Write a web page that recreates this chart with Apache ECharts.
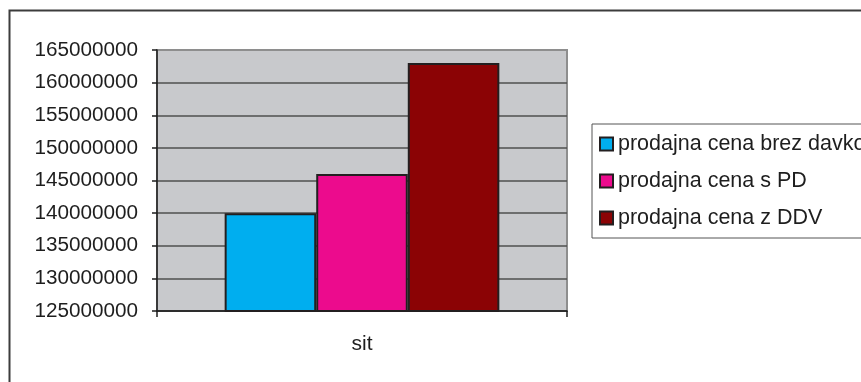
<!DOCTYPE html>
<html>
<head>
<meta charset="utf-8">
<script src="https://cdn.jsdelivr.net/npm/echarts@6/dist/echarts.min.js"></script>
<style>
  html, body { margin: 0; padding: 0; background: #fff; }
  #chart { width: 861px; height: 382px; }
</style>
</head>
<body>
<div id="chart"></div>
<script>
// Category and series data
const categories = ['sit'];
const seriesNames = ['prodajna cena brez davkov', 'prodajna cena s PD', 'prodajna cena z DDV'];
const priceNoTax = [140000000];
const priceWithPD = [146000000];
const priceWithDDV = [163000000];
const seriesColors = ['#00aeef', '#ec0b8d', '#8b0305'];

// Value axis range
const yMin = 125000000;
const yMax = 165000000;
const yStep = 5000000;

const FONT = '"Liberation Sans", Arial, sans-serif';
const seriesValues = [priceNoTax, priceWithPD, priceWithDDV];

// Split lines: the top one blends with the gray plot frame
const splitColors = [];
for (let v = yMin; v <= yMax; v += yStep) splitColors.push(v === yMax ? '#8e8e8e' : '#4f4f4f');

const chart = echarts.init(document.getElementById('chart'), null, { renderer: 'canvas' });

chart.setOption({
  animation: false,
  backgroundColor: '#ffffff',
  textStyle: { fontFamily: FONT },
  graphic: [{
    type: 'rect',
    shape: { x: 9.5, y: 10.5, width: 900, height: 420 },
    style: { fill: null, stroke: '#3c3c3c', lineWidth: 2 },
    z: -1
  }],
  grid: {
    left: 157, top: 50, right: 294, bottom: 71,
    show: true,
    backgroundColor: '#c8c9cc',
    borderColor: '#8e8e8e',
    borderWidth: 2
  },
  legend: {
    orient: 'vertical',
    left: 592, top: 124,
    padding: [9, 12, 9, 7],
    itemGap: 15,
    itemWidth: 13, itemHeight: 13,
    icon: 'rect',
    borderColor: '#555555', borderWidth: 1,
    textStyle: { fontFamily: FONT, fontSize: 21.5, color: '#1e1e1e' },
    data: seriesNames
  },
  xAxis: {
    type: 'category',
    data: categories,
    boundaryGap: true,
    axisLine: { lineStyle: { color: '#1e1e1e', width: 1.5 } },
    axisTick: { show: true, length: 6, inside: false, lineStyle: { color: '#1e1e1e', width: 1.5 } },
    axisLabel: { fontFamily: FONT, fontSize: 21, color: '#1e1e1e', margin: 23 }
  },
  yAxis: {
    type: 'value',
    min: yMin, max: yMax, interval: yStep,
    axisLine: { show: true, lineStyle: { color: '#1e1e1e', width: 1.5 } },
    axisTick: { show: true, length: 5, lineStyle: { color: '#1e1e1e', width: 1.5 } },
    axisLabel: {
      fontFamily: FONT, fontSize: 20.7, color: '#1e1e1e', margin: 19,
      formatter: (v) => String(Math.round(v))
    },
    splitLine: { show: true, lineStyle: { color: splitColors, width: 1.5 } }
  },
  series: seriesNames.map((name, i) => ({
    name: name,
    type: 'bar',
    data: seriesValues[i],
    barGap: '0%',
    barCategoryGap: '33%',
    itemStyle: { color: seriesColors[i], borderColor: '#231f20', borderWidth: 2 }
  }))
});
</script>
</body>
</html>
